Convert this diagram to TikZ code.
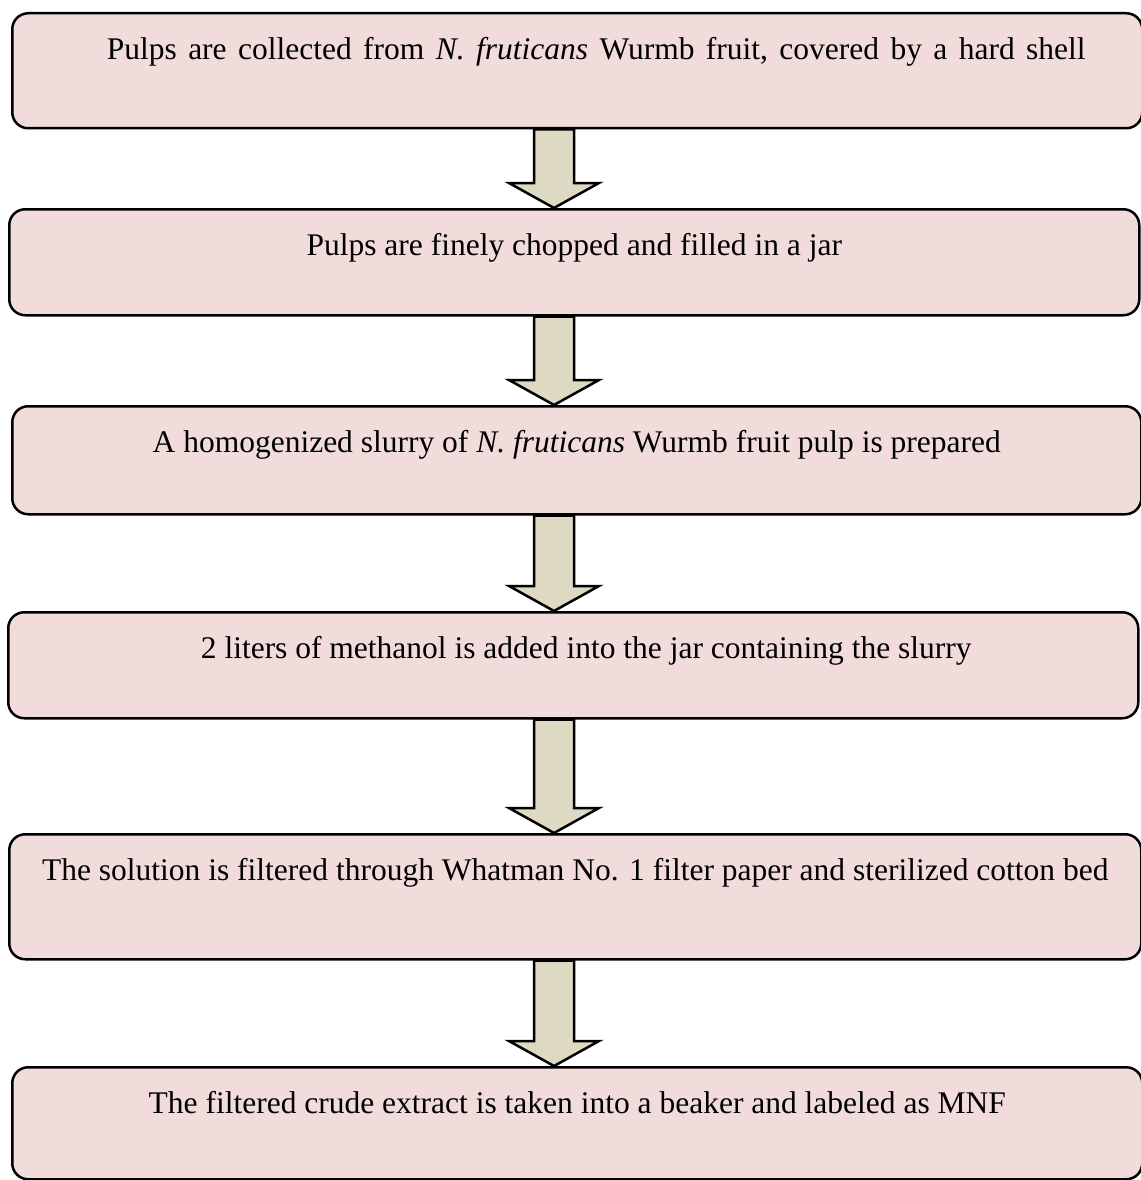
\documentclass[tikz,border=0pt]{standalone}
\usepackage{fontspec}
\setmainfont{Liberation Serif}
\usetikzlibrary{calc}
\definecolor{boxpink}{RGB}{242,220,219}
\definecolor{arrowtan}{RGB}{221,217,195}

\begin{document}
\begin{tikzpicture}[x=1pt,y=-1pt,
		stepbox/.style={draw,line width=2.5pt,fill=boxpink,rounded corners=16pt,anchor=north west,inner sep=0pt,text height=46pt,font=\fontsize{31.5}{38}\selectfont},
		blockarrow/.style={draw,line width=2.5pt,fill=arrowtan,line join=miter}]
		\useasboundingbox (0,0) rectangle (1140,1180);
		\coordinate (col) at (554,0);
		\node[stepbox,minimum width=1130pt,text depth=69pt] (s1) at (11,12) {\hspace*{38pt}\spaceskip=11.4pt Pulps are collected from \textit{N. fruticans} Wurmb fruit, covered by a hard shell};
		\node[stepbox,minimum width=1130pt,text depth=60pt] (s2) at (8,208) {Pulps are finely chopped and filled in a jar};
		\node[stepbox,minimum width=1129pt,text depth=62pt] (s3) at (11,405) {A homogenized slurry of \textit{N. fruticans} Wurmb fruit pulp is prepared};
		\node[stepbox,minimum width=1130pt,text depth=60pt] (s4) at (7,611) {\hspace*{26pt}2 liters of methanol is added into the jar containing the slurry};
		\node[stepbox,minimum width=1132pt,text depth=79pt] (s5) at (8,833) {The solution is filtered through Whatman No. 1 filter paper and sterilized cotton bed};
		\node[stepbox,minimum width=1130pt,text depth=66pt] (s6) at (11,1066) {The filtered crude extract is taken into a beaker and labeled as MNF};
		\foreach \a/\b in {s1/s2,s2/s3,s3/s4,s4/s5,s5/s6}
			\draw[blockarrow] let \p1=(\a.south -| col), \p2=(\b.north -| col) in
				(\x1-20pt,\y1) -- (\x1+20pt,\y1) -- (\x1+20pt,\y2+25pt) -- (\x1+45pt,\y2+25pt)
				-- (\x1,\y2) -- (\x1-45pt,\y2+25pt) -- (\x1-20pt,\y2+25pt) -- cycle;
	\end{tikzpicture}
\end{document}
